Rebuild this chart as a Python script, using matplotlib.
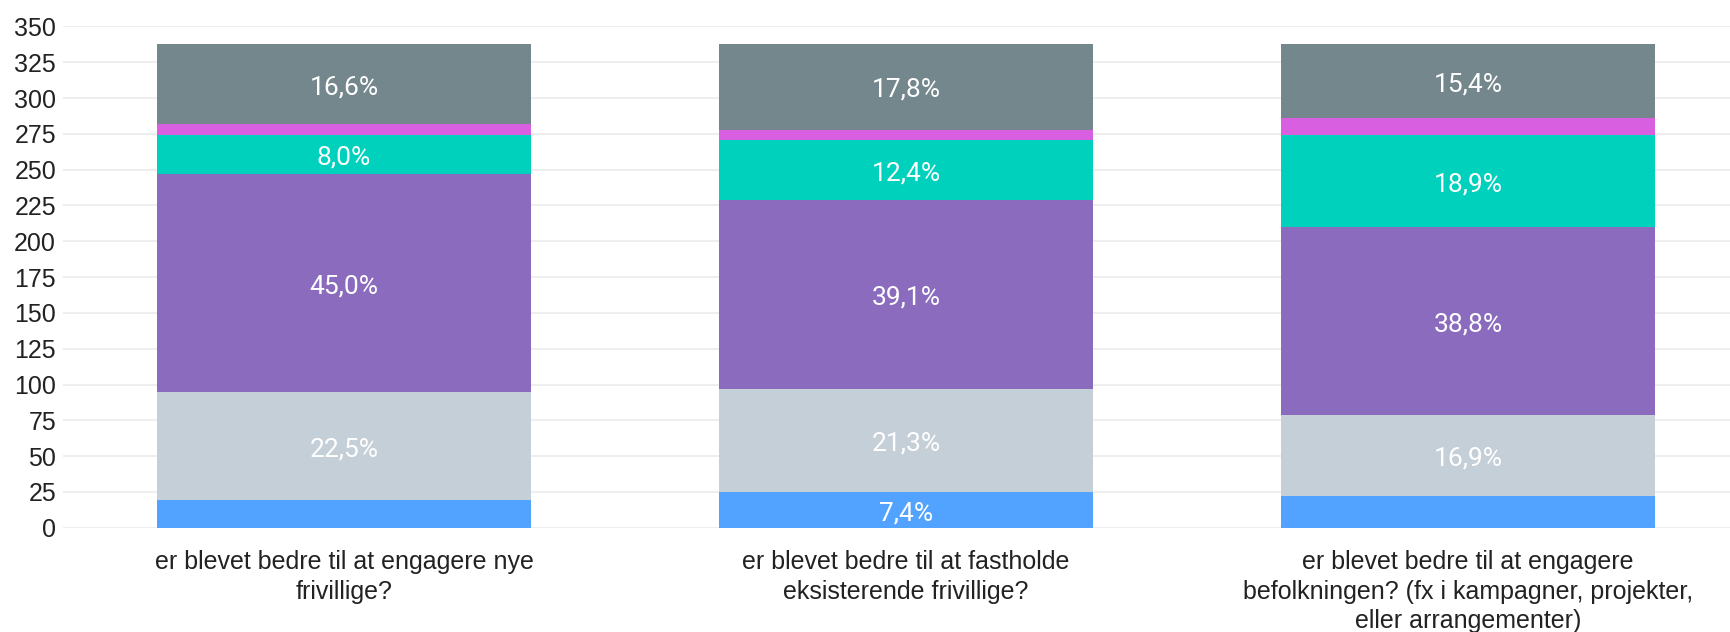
import matplotlib
matplotlib.use("Agg")
import matplotlib.pyplot as plt
import numpy as np

categories = [
    "er blevet bedre til at engagere nye\nfrivillige?",
    "er blevet bedre til at fastholde\neksisterende frivillige?",
    "er blevet bedre til at engagere\nbefolkningen? (fx i kampagner, projekter,\neller arrangementer)",
]
# counts per segment, bottom to top
s_blue = [19, 25, 22]
s_lightgray = [76, 72, 57]
s_purple = [152, 132, 131]
s_teal = [27, 42, 64]
s_magenta = [8, 7, 12]
s_gray = [56, 60, 52]

series = [s_blue, s_lightgray, s_purple, s_teal, s_magenta, s_gray]
colors = ["#52a2ff", "#c5cfd8", "#8b6bbd", "#00d1bd", "#d95fe1", "#74878d"]
yticks = [0, 25, 50, 75, 100, 125, 150, 175, 200, 225, 250, 275, 300, 325, 350]

plt.rcParams['font.family'] = ['Liberation Sans', 'DejaVu Sans']

fig = plt.figure(figsize=(17.31, 6.32), dpi=100)
ax = fig.add_axes([63/1731, 104.3/632, 1 - 63/1731, (527.7 - 26.5)/632])

x = np.arange(len(categories))
totals = np.sum(np.array(series), axis=0)
bottom = np.zeros(len(categories))
for vals, col in zip(series, colors):
    vals = np.array(vals, dtype=float)
    ax.bar(x, vals, bottom=bottom, width=0.665, color=col, zorder=2,
           edgecolor='none')
    for xi, v, b, t in zip(x, vals, bottom, totals):
        pct = v / t * 100
        if pct >= 7:
            ax.annotate(f"{pct:.1f}%".replace('.', ','), (xi, b + v / 2),
                        xytext=(0, -2.4), textcoords='offset points',
                        ha='center', va='center', color='white', fontsize=19,
                        family=['Roboto', 'DejaVu Sans'], fontweight='normal',
                        zorder=3)
    bottom += vals

ax.set_xlim(-0.5, 2.468)
ax.set_ylim(0, 350)
ax.set_yticks(yticks)
ax.set_yticklabels([str(t) for t in yticks], fontsize=18, color='#222222')
ax.set_xticks(x)
ax.set_xticklabels(categories, fontsize=18, color='#222222', linespacing=1.3)
ax.tick_params(axis='both', length=0)
ax.tick_params(axis='y', pad=5)
ax.tick_params(axis='x', pad=16)
for s in ax.spines.values():
    s.set_visible(False)
ax.yaxis.grid(True, color='#ebebeb', linewidth=1.2, zorder=0)
ax.set_axisbelow(True)

fig.savefig("out.png", dpi=100)
